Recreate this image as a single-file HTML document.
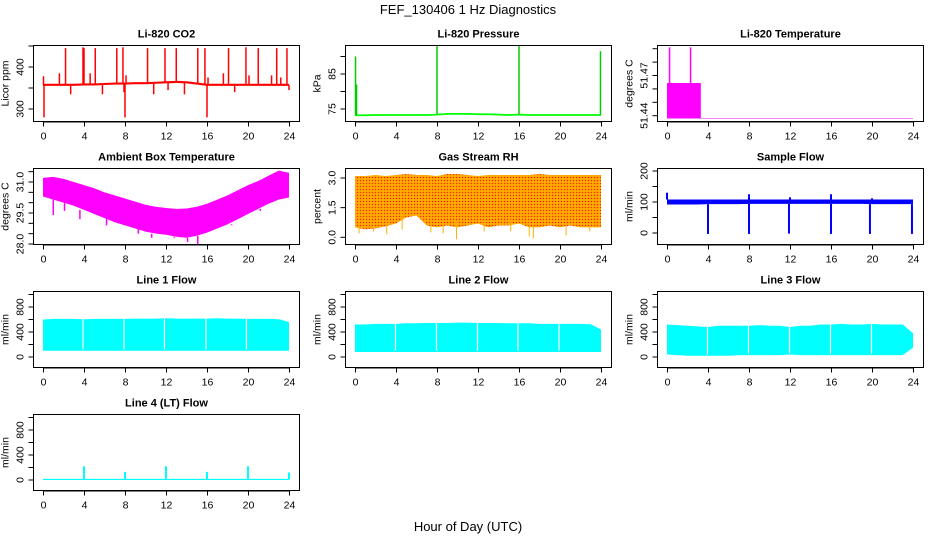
<!DOCTYPE html>
<html><head><meta charset="utf-8">
<style>
html,body{margin:0;padding:0;background:#fff;}
svg{display:block;font-family:"Liberation Sans",Arial,sans-serif;}
</style></head>
<body>
<svg id="chart" width="936" height="540" viewBox="0 0 936 540" xmlns="http://www.w3.org/2000/svg">
<defs>
<pattern id="rhpat" width="3" height="3" patternUnits="userSpaceOnUse">
<rect width="3" height="3" fill="#FF9A00"/><rect width="1" height="1" fill="#FF2000"/><rect x="1.5" y="1.5" width="1" height="1" fill="#FFE000"/>
</pattern>
</defs>
<text x="468" y="14" text-anchor="middle" font-size="13">FEF_130406  1 Hz Diagnostics</text>
<text x="468" y="531" text-anchor="middle" font-size="13">Hour of Day (UTC)</text>
</svg>
<script>
// ---- data ----
const xTicks = [0,4,8,12,16,20,24];
const hours = [0,1,2,3,4,5,6,7,8,9,10,11,12,13,14,15,16,17,18,19,20,21,22,23,24];

const co2Base = [357,357,357,357,358,358,359,360,360,361,361,362,363,364,363,360,357,357,357,357,357,357,357,357,357];
const co2SpikeHours = [0.05,0.1,1.6,2.2,2.7,3.9,4.0,4.6,5.1,5.8,7.2,7.8,7.9,8.0,8.1,10.2,10.8,11.9,12.2,13.0,13.8,15.1,15.8,16.0,16.1,17.6,18.1,18.7,19.8,20.1,21.0,22.3,22.8,23.2,23.8,24.0];
const co2SpikeVals = [378,280,385,445,335,447,445,385,445,335,445,447,340,280,380,445,335,445,345,445,335,445,445,280,375,385,445,340,447,380,445,380,445,375,445,345];

const presBase = [73.2,73.2,73.3,73.3,73.3,73.3,73.3,73.3,73.4,73.6,73.6,73.6,73.5,73.5,73.4,73.3,73.4,73.3,73.3,73.3,73.3,73.3,73.3,73.3,73.3];
const presSpikeHours = [0.05,0.15,8.0,16.0,23.95];
const presSpikeVals = [90,82,93,93,91.5];

const tempStepHours = [0,3.3,24];
const tempStepVals = [51.4644,51.4383];
const tempSpikeHours = [0.25,2.3];
const tempSpikeVals = [51.491,51.491];

const ambUpper = [31.2,31.25,31.15,31.0,30.85,30.7,30.5,30.35,30.2,30.05,29.9,29.8,29.74,29.7,29.72,29.8,29.95,30.15,30.35,30.6,30.85,31.05,31.3,31.55,31.45];
const ambLower = [30.3,30.15,30.0,29.85,29.65,29.45,29.25,29.05,28.9,28.75,28.6,28.5,28.45,28.35,28.3,28.4,28.55,28.75,28.95,29.2,29.45,29.7,29.95,30.15,30.25];
const ambDipHours = [1.0,2.1,3.6,6.2,9.3,10.6,12.8,14.1,15.1,18.4,21.2];
const ambDipVals = [29.4,29.6,29.2,28.9,28.5,28.3,28.3,28.1,27.95,28.9,29.6];

const rhUpper = [3.1,3.1,3.15,3.1,3.15,3.2,3.15,3.15,3.1,3.2,3.2,3.15,3.1,3.15,3.15,3.15,3.15,3.15,3.2,3.15,3.15,3.15,3.15,3.15,3.15];
const rhLower = [0.5,0.4,0.45,0.55,0.7,1.0,1.1,0.6,0.5,0.6,0.5,0.6,0.7,0.5,0.6,0.6,0.7,0.5,0.5,0.6,0.5,0.6,0.5,0.5,0.5];
const rhDipHours = [0.4,1.8,3.1,4.6,7.4,8.6,9.9,12.6,15.2,17.0,17.4,20.6,22.9];
const rhDipVals = [0.2,0.3,0.15,0.4,0.25,0.2,-0.1,0.3,0.3,0.05,-0.05,0.1,0.3];

const sfLower = [92,92,92,92,93,93,93,93,94,94,94,94,94,94,94,94,94,94,94,94,93,93,93,93,93];
const sfUpper = [108,108,108,108,108,108,108,108,108,108,108,108,108,108,108,108,108,108,108,108,108,108,108,108,108];
const sfDipHours = [4,8,11.9,16,19.8,23.9];
const sfDipVals = [-3,-3,-2,-3,-3,-3];
const sfPeakHours = [0,8,12,16,20];
const sfPeakVals = [130,125,115,125,112];

const l1Upper = [600,610,610,610,605,610,610,610,610,615,615,615,620,615,615,615,615,620,615,615,610,610,610,605,560];
const l1Lower = [100,100,100,100,100,100,100,100,100,100,100,100,100,100,100,100,100,100,100,100,100,100,100,100,100];
const l1GapHours = [3.9,7.9,11.85,15.9,19.85];

const l2Upper = [520,520,530,530,530,540,540,545,545,545,550,550,545,545,545,540,540,540,530,530,530,530,530,525,440];
const l2Lower = [80,80,80,80,80,80,80,80,80,80,80,80,80,80,80,80,80,80,80,80,80,80,80,80,80];
const l2GapHours = [3.95,7.95,11.95,15.9,19.9];

const l3Upper = [520,510,500,490,480,500,500,500,500,510,500,500,480,500,500,520,520,530,520,520,530,520,520,520,380];
const l3Lower = [40,30,20,20,20,20,20,30,30,30,30,30,40,30,30,30,30,30,30,30,30,30,30,30,150];
const l3GapHours = [3.95,7.95,11.95,15.95,19.95];

const l4Base = [10,10,10,10,10,10,10,10,10,10,10,10,10,10,10,10,10,10,10,10,10,10,10,10,10];
const l4SpikeHours = [4,8,12,16,20,24];
const l4SpikeVals = [220,130,220,130,220,120];

// ---- helpers ----
const NS = "http://www.w3.org/2000/svg";
const svg = document.getElementById('chart');
function mk(tag, attrs, parent){
  const e = document.createElementNS(NS, tag);
  for (const k in attrs) e.setAttribute(k, attrs[k]);
  (parent||svg).appendChild(e);
  return e;
}
function fmt(v, d){ return v.toFixed(d); }

function panel(c, r, name, title, ylab, yd, yp, yticks, ylabels, dec){
  const g = mk('g', {});
  
  
  const L = 33.5 + 312*c, W = 266, T = 45.5 + 123*r, H = 76;
  const X = t => 43 + 312*c + t*10.25;
  const Y = v => yp[0] + (v - yd[0]) * (yp[1]-yp[0])/(yd[1]-yd[0]);
  const tt = mk('text', {x: L + W/2, y: T - 8, 'text-anchor':'middle', 'font-size':11, 'font-weight':'bold'}, g);
  tt.textContent = title;
  
  
  const xa = mk('g', {stroke:'#000','stroke-width':1}, g);
  
  
  mk('line', {x1:X(xTicks[0]), x2:X(xTicks[xTicks.length-1]), y1:T+H+0.5, y2:T+H+0.5}, xa);
  xTicks.forEach(t => {
    mk('line', {x1:X(t)+0.5, x2:X(t)+0.5, y1:T+H, y2:T+H+5}, xa);
    const tx = mk('text', {x:X(t)+0.5, y:T+H+18, 'text-anchor':'middle','font-size':10.5, stroke:'none'}, xa);
    tx.textContent = t;
    
    
  });
  const ya = mk('g', {stroke:'#000','stroke-width':1}, g);
  
  
  mk('line', {x1:L, x2:L, y1:Y(yticks[0]), y2:Y(yticks[yticks.length-1])}, ya);
  yticks.forEach(v => {
    mk('line', {x1:L-5, x2:L, y1:Y(v), y2:Y(v)}, ya);
  });
  ylabels.forEach(v => {
    const yy = Y(v);
    const tx = mk('text', {x:L-10, y:yy, 'text-anchor':'middle','font-size':10.5, stroke:'none', transform:`rotate(-90 ${L-10} ${yy})`}, ya);
    tx.textContent = fmt(v, dec);
    
    
  });
  const yl = mk('text', {x:L-25, y:T+H/2, 'text-anchor':'middle','font-size':10.5, transform:`rotate(-90 ${L-25} ${T+H/2})`}, g);
  yl.textContent = ylab;
  
  
  const plot = mk('g', {}, g);
  
  
  const box = mk('rect', {x:L, y:T, width:W, height:H, fill:'none', stroke:'#000', 'stroke-width':1}, g);
  
  
  return {X, Y, plot};
}
function band(p, xs, up, lo, fill){
  let pts = xs.map((h,i)=>p.X(h)+','+p.Y(up[i]));
  pts = pts.concat(xs.map((h,i)=>p.X(h)+','+p.Y(lo[i])).reverse());
  const e = mk('polygon', {points:pts.join(' '), fill:fill}, p.plot);
  
  
}
function vline(p, h, v1, v2, col, w){
  const e = mk('line', {x1:p.X(h), x2:p.X(h), y1:p.Y(v1), y2:p.Y(v2), stroke:col, 'stroke-width':w||1.5}, p.plot);
  
  
}
function baseAt(arr, h){ const i = Math.min(24, Math.max(0, Math.round(h))); return arr[i]; }

// CO2
const pc = panel(0,0,'co2','Li-820 CO2','Licor ppm',[300,400],[109,67],[300,350,400,450],[300,400],0);
band(pc, hours, co2Base.map(v=>v+3), co2Base.map(v=>v-2), '#FF0000');
co2SpikeHours.forEach((h,i)=>vline(pc,h,baseAt(co2Base,h),co2SpikeVals[i],'#FF0000',1.5));

// Pressure
const pp = panel(1,0,'pressure','Li-820 Pressure','kPa',[75,85],[109,74],[75,80,85,90],[75,85],0);
band(pp, hours, presBase.map(v=>v+0.25), presBase.map(v=>v-0.25), '#00FF00');
presSpikeHours.forEach((h,i)=>vline(pp,h,baseAt(presBase,h),presSpikeVals[i],'#00CC00',1.5));

// Temperature
const pt = panel(2,0,'li820-temperature','Li-820 Temperature','degrees C',[51.44,51.45],[115.7,102.3],[51.44,51.45,51.46,51.47,51.48,51.49],[51.44,51.47],2);
tempStepVals.forEach((v,i)=>{
  band(pt, [tempStepHours[i], tempStepHours[i+1]], [v, v], [tempStepVals[tempStepVals.length-1]-0.0004, tempStepVals[tempStepVals.length-1]-0.0004], '#FF00FF');
});
tempSpikeHours.forEach((h,i)=>vline(pt,h,tempStepVals[0],tempSpikeVals[i],'#FF00FF',1.5));

// Ambient
const pa = panel(0,1,'ambient-temperature','Ambient Box Temperature','degrees C',[31,28],[182,244],[28,28.5,29,29.5,30,30.5,31,31.5],[28,29.5,31],1);
band(pa, hours, ambUpper, ambLower, '#FF00FF');
ambDipHours.forEach((h,i)=>vline(pa,h,baseAt(ambLower,h),ambDipVals[i],'#FF00FF',1.5));

// RH
const pr = panel(1,1,'gas-stream-rh','Gas Stream RH','percent',[0,3],[237.3,178],[0,1.5,3],[0,1.5,3],1);
band(pr, hours, rhUpper, rhLower, 'url(#rhpat)');
rhDipHours.forEach((h,i)=>vline(pr,h,baseAt(rhLower,h)+0.3,rhDipVals[i],'#FFB000',1));

// Sample flow
const ps = panel(2,1,'sample-flow','Sample Flow','ml/min',[0,100],[233,202],[0,50,100,150,200],[0,100,200],0);
band(ps, hours, sfUpper, sfLower, '#0000FF');
sfDipHours.forEach((h,i)=>vline(ps,h,baseAt(sfLower,h),sfDipVals[i],'#0000FF',2));
sfPeakHours.forEach((h,i)=>vline(ps,h,baseAt(sfUpper,h),sfPeakVals[i],'#0000FF',2));

// Line flows
const lineTicks = [0,200,400,600,800,1000];
const lineLabels = [0,400,800];
function linePanel(c,r,name,title,up,lo,gaps){
  const p = panel(c,r,name,title,'ml/min',[0,400],[357+123*(r-2),332+123*(r-2)],lineTicks,lineLabels,0);
  band(p, hours, up, lo, '#00FFFF');
  gaps.forEach(h=>vline(p,h,baseAt(lo,h)+20,baseAt(up,h)+20,'#FFFFFF',1.2));
  return p;
}
linePanel(0,2,'line-1-flow','Line 1 Flow',l1Upper,l1Lower,l1GapHours);
linePanel(1,2,'line-2-flow','Line 2 Flow',l2Upper,l2Lower,l2GapHours);
linePanel(2,2,'line-3-flow','Line 3 Flow',l3Upper,l3Lower,l3GapHours);
const p4 = panel(0,3,'line-4-flow','Line 4 (LT) Flow','ml/min',[0,400],[480,455],lineTicks,lineLabels,0);
band(p4, hours, l4Base.map(v=>v+8), l4Base.map(v=>v-10), '#00FFFF');
l4SpikeHours.forEach((h,i)=>vline(p4,h,baseAt(l4Base,h),l4SpikeVals[i],'#00FFFF',2));
</script>
</body></html>
